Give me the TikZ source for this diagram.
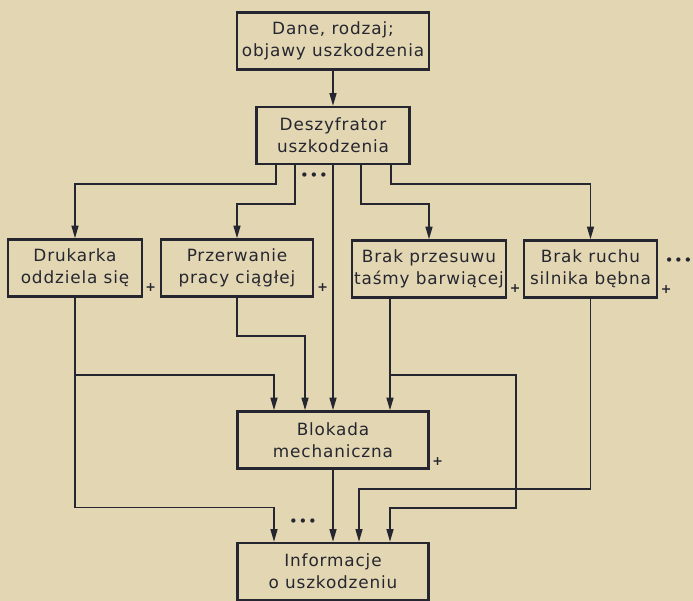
\documentclass[tikz,border=0pt]{standalone}
\usepackage{fontspec}
\setmainfont{DejaVu Sans}[LetterSpace=5]
\usetikzlibrary{arrows.meta,positioning,calc}
\definecolor{paper}{RGB}{226,215,178}
\definecolor{ink}{RGB}{38,38,48}

\begin{document}
\begin{tikzpicture}[
    block/.style={draw=ink,line width=2.2pt,minimum width=#1,minimum height=1.9cm,align=center,inner sep=2pt,font=\fontsize{16}{21}\selectfont,text=ink},
    block/.default=5cm,
    link/.style={draw=ink,line width=1.6pt,-{Triangle[length=12pt,width=6.5pt]}},
    plus/.style={font=\fontsize{12}{12}\selectfont\bfseries,text=ink,inner sep=0pt},
    more/.style={font=\fontsize{14}{14}\selectfont,text=ink,inner sep=0pt}
]
    \useasboundingbox (0,0) rectangle (23.1,-20.033);
    \fill[paper] (0,0) rectangle (23.1,-20.033);

    % Input and decoder
    \node[block=6.4cm] (dane) at (11.1,-1.367) {Dane, rodzaj;\\objawy uszkodzenia};
    \node[block=5.1cm] (desz) at (11.1,-4.517) {Deszyfrator\\uszkodzenia};

    % Fault types
    \node[block=4.467cm] (druk) at (2.5,-8.933) {Drukarka\\oddziela się};
    \node[block=5.067cm] (przerw) at (7.9,-8.933) {Przerwanie\\pracy ciągłej};
    \node[block=5.067cm] (brakp) at (14.3,-8.967) {Brak przesuwu\\taśmy barwiącej};
    \node[block=4.433cm] (brakr) at (19.683,-8.967) {Brak ruchu\\silnika bębna};

    % Lock and output
    \node[block=6.367cm] (blok) at (11.1,-14.667) {Blokada\\mechaniczna};
    \node[block=6.367cm] (info) at (11.1,-19.05) {Informacje\\o uszkodzeniu};

    % Plus marks
    \node[plus] (plus1) at ([xshift=0.25cm,yshift=0.35cm]druk.south east) {+};
    \node[plus] (plus2) at ([xshift=0.28cm,yshift=0.35cm]przerw.south east) {+};
    \node[plus] (plus3) at ([xshift=0.27cm,yshift=0.35cm]brakp.south east) {+};
    \node[plus] (plus4) at ([xshift=0.27cm,yshift=0.3cm]brakr.south east) {+};
    \node[plus] (plus5) at ([xshift=0.27cm,yshift=0.27cm]blok.south east) {+};

    % Continuation dots
    \node[more] (more1) at (10.467,-5.9) {•••};
    \node[more] (more2) at (10.1,-17.433) {•••};
    \node[more] (more3) at (22.62,-8.733) {•••};

    % Connections from the top
    \draw[link] (dane) -- (desz);
    \draw[link] ([xshift=-1.9cm]desz.south) -- ++(0,-0.633) -| (druk.north);
    \draw[link] ([xshift=-1.267cm]desz.south) -- ++(0,-1.3) -| (przerw.north);
    \draw[link] ([xshift=0.933cm]desz.south) -- ++(0,-1.3) -| (brakp.north);
    \draw[link] ([xshift=1.933cm]desz.south) -- ++(0,-0.633) -| (brakr.north);
    \draw[link] (desz.south) -- (desz.south |- blok.north);

    % Connections to the lock
    \draw[link] (druk.south) -- ++(0,-2.567) -| ([xshift=-1.967cm]blok.north);
    \draw[link] (przerw.south) -- ++(0,-1.267) -| ([xshift=-0.933cm]blok.north);
    \draw[link] ([xshift=-1.3cm]brakp.south) -- ([xshift=-1.3cm]brakp.south |- blok.north);

    % Connections to the output
    \draw[link] (druk.south) -- ++(0,-7) -| ([xshift=-1.967cm]info.north);
    \draw[link] (blok) -- (info);
    \draw[link] (brakr.south) -- ++(0,-6.333) -| ([xshift=0.867cm]info.north);
    \draw[link] ([xshift=-1.3cm]brakp.south) -- ++(0,-2.55) -- ++(4.2,0) -- ++(0,-4.433) -| ([xshift=1.9cm]info.north);
\end{tikzpicture}
\end{document}
